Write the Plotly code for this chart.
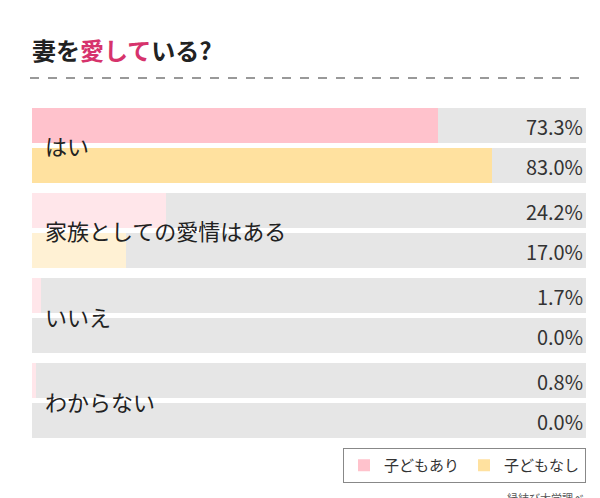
import plotly.graph_objects as go

categories = ["はい", "家族としての愛情はある", "いいえ", "わからない"]
with_kids = [73.3, 24.2, 1.7, 0.8]
without_kids = [83.0, 17.0, 0.0, 0.0]
series_names = ["子どもあり", "子どもなし"]

F = "Noto Sans CJK JP"
n = len(categories)
off, w = 0.235, 0.41
y1 = [i - off for i in range(n)]
y2 = [i + off for i in range(n)]
pink = ["#FFC2CC"] + ["#FFE6EA"] * (n - 1)
yell = ["#FFE19F"] + ["#FFF1D4"] * (n - 1)

L, R, T, B, W, H = 24, 22, 100, 68, 600, 498
pw, ph = W - L - R, H - T - B
def px(x): return (x - L) / pw
def py(y): return (H - B - y) / ph

fig = go.Figure()
fig.add_bar(x=[100] * n * 2, y=y1 + y2, orientation="h", width=w,
            marker=dict(color="#E6E6E6", line_width=0), showlegend=False,
            text=[f"{v:.1f}%" for v in with_kids + without_kids],
            textposition="inside", insidetextanchor="end",
            textfont=dict(family=F, size=22, color="#333"), hoverinfo="skip")
fig.add_bar(x=with_kids, y=y1, orientation="h", width=w, name=series_names[0],
            marker=dict(color=pink, line_width=0))
fig.add_bar(x=without_kids, y=y2, orientation="h", width=w, name=series_names[1],
            marker=dict(color=yell, line_width=0))

for i, c in enumerate(categories):
    fig.add_annotation(x=2, y=i, xref="x", yref="y", text=c, showarrow=False,
                       xanchor="left", font=dict(family=F, size=22, color="#222"))

fig.add_annotation(x=px(22), y=py(42), xref="paper", yref="paper", yanchor="middle",
                   xanchor="left", showarrow=False,
                   text="<b>妻を<span style='color:#D6336C'>愛して</span>いる?</b>",
                   font=dict(family=F, size=24, color="#222"))
fig.add_annotation(x=px(578), y=py(490), xref="paper", yref="paper", xanchor="right",
                   yanchor="middle", showarrow=False, text="縁結び大学調べ",
                   font=dict(family=F, size=11, color="#555"))
fig.add_shape(type="line", xref="paper", yref="paper", x0=px(22), x1=px(578),
              y0=py(70), y1=py(70), line=dict(color="#999", width=2, dash="dash"))

fig.update_layout(
    width=W, height=H, barmode="overlay", bargap=0,
    margin=dict(l=L, r=R, t=T, b=B),
    plot_bgcolor="white", paper_bgcolor="white",
    xaxis=dict(range=[0, 100], visible=False, fixedrange=True),
    yaxis=dict(range=[3.44, -0.44], visible=False),
    legend=dict(orientation="h", x=1, xanchor="right", y=py(440), yanchor="top",
                bordercolor="#888", borderwidth=1, font=dict(family=F, size=15, color="#333"),
                traceorder="normal"),
    showlegend=True,
)
fig.write_html("out.html")
